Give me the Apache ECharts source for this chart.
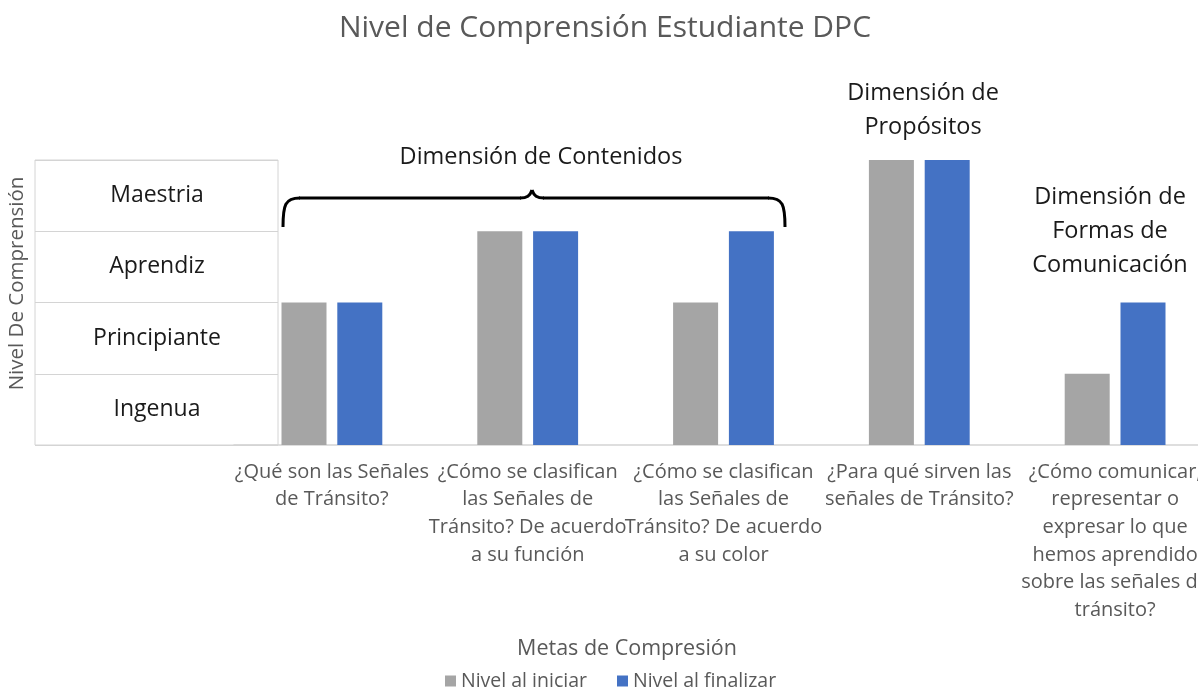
<!DOCTYPE html>
<html>
<head>
<meta charset="utf-8">
<script src="https://cdn.jsdelivr.net/npm/echarts@6/dist/echarts.min.js"></script>
<style>html,body{margin:0;padding:0;background:#fff}#c{width:1198px;height:690px}</style>
</head>
<body>
<div id="c"></div>
<script>
var categories = [
  '¿Qué son las Señales\nde Tránsito?',
  '¿Cómo se clasifican\nlas Señales de\nTránsito? De acuerdo\na su función',
  '¿Cómo se clasifican\nlas Señales de\nTránsito? De acuerdo\na su color',
  '¿Para qué sirven las\nseñales de Tránsito?',
  '¿Cómo comunicar,\nrepresentar o\nexpresar lo que\nhemos aprendido\nsobre las señales de\ntránsito?'
];
var levelLabels = ['Ingenua', 'Principiante', 'Aprendiz', 'Maestria'];
var nivelIniciar = [2, 3, 2, 4, 1];
var nivelFinalizar = [2, 3, 3, 4, 2];

var FONT = '"Open Sans", sans-serif';
var braceStyle = { stroke: '#000', lineWidth: 3, fill: null };
var chart = echarts.init(document.getElementById('c'));
chart.setOption({
  animation: false,
  textStyle: { fontFamily: FONT },
  title: [
    { text: 'Nivel de Comprensión Estudiante DPC', left: 600, textAlign: 'center', top: 8,
      textStyle: { fontFamily: FONT, fontSize: 30, fontWeight: 'normal', color: '#595959' } },
    { text: 'Metas de Compresión', left: 622, textAlign: 'center', top: 633,
      textStyle: { fontFamily: FONT, fontSize: 21.5, fontWeight: 'normal', color: '#595959' } }
  ],
  legend: {
    top: 666, left: 440, itemWidth: 11, itemHeight: 11, itemGap: 30,
    icon: 'rect',
    textStyle: { fontFamily: FONT, fontSize: 19.5, color: '#595959' },
    data: ['Nivel al iniciar', 'Nivel al finalizar']
  },
  grid: [
    { left: 234, top: 160, width: 979, height: 285, outerBoundsMode: 'none', containLabel: false },
    { left: 35, top: 160, width: 243, height: 285, show: true, borderColor: '#d4d4d4', borderWidth: 1, outerBoundsMode: 'none', containLabel: false }
  ],
  xAxis: [
    { type: 'category', gridIndex: 0, data: categories,
      axisLine: { show: true, lineStyle: { color: '#d4d4d4', width: 1.5 } },
      axisTick: { show: false },
      axisLabel: { interval: 0, margin: 13, lineHeight: 27.7, fontSize: 20, color: '#595959', fontFamily: FONT } },
    { type: 'value', gridIndex: 1, show: false, min: 0, max: 1 }
  ],
  yAxis: [
    { type: 'value', gridIndex: 0, min: 0, max: 4, interval: 1, show: false, splitLine: { show: false } },
    { type: 'category', gridIndex: 1, data: levelLabels,
      name: 'Nivel De Comprensión', nameLocation: 'middle', nameGap: 7, nameRotate: 90,
      nameTextStyle: { fontFamily: FONT, fontSize: 20.5, color: '#595959', padding: [0, 0, 0, 38] },
      axisLine: { show: false }, axisTick: { show: false },
      splitLine: { show: true, lineStyle: { color: '#d4d4d4', width: 1 } },
      axisLabel: { margin: -122, align: 'center', fontSize: 23, color: '#1a1a1a', fontFamily: FONT } }
  ],
  series: [
    { name: 'Nivel al iniciar', type: 'bar', xAxisIndex: 0, yAxisIndex: 0,
      data: nivelIniciar, barWidth: 45, barGap: '24%', itemStyle: { color: '#A5A5A5' } },
    { name: 'Nivel al finalizar', type: 'bar', xAxisIndex: 0, yAxisIndex: 0,
      data: nivelFinalizar, barWidth: 45, barGap: '24%', itemStyle: { color: '#4472C4' } }
  ],
  graphic: [
    { type: 'bezierCurve', shape: { x1: 283, y1: 227, cpx1: 283, cpy1: 205, cpx2: 285, cpy2: 198, x2: 300, y2: 198 }, style: braceStyle },
    { type: 'line', shape: { x1: 299, y1: 198, x2: 521, y2: 198 }, style: braceStyle },
    { type: 'bezierCurve', shape: { x1: 520, y1: 198, cpx1: 527, cpy1: 198, cpx2: 530, cpy2: 196, x2: 532, y2: 190 }, style: braceStyle },
    { type: 'bezierCurve', shape: { x1: 532, y1: 190, cpx1: 534, cpy1: 196, cpx2: 537, cpy2: 198, x2: 544, y2: 198 }, style: braceStyle },
    { type: 'line', shape: { x1: 543, y1: 198, x2: 769, y2: 198 }, style: braceStyle },
    { type: 'bezierCurve', shape: { x1: 768, y1: 198, cpx1: 783, cpy1: 198, cpx2: 785, cpy2: 205, x2: 785, y2: 227 }, style: braceStyle },
    { type: 'text', x: 541, y: 157, style: { text: 'Dimensión de Contenidos', font: '23.5px ' + FONT, fill: '#1a1a1a', align: 'center', verticalAlign: 'middle' } },
    { type: 'text', x: 923, y: 110, style: { text: 'Dimensión de\nPropósitos', font: '23.5px ' + FONT, lineHeight: 34, fill: '#1a1a1a', align: 'center', verticalAlign: 'middle' } },
    { type: 'text', x: 1110, y: 231, style: { text: 'Dimensión de\nFormas de\nComunicación', font: '23.5px ' + FONT, lineHeight: 34, fill: '#1a1a1a', align: 'center', verticalAlign: 'middle' } }
  ]
});
</script>
</body>
</html>
